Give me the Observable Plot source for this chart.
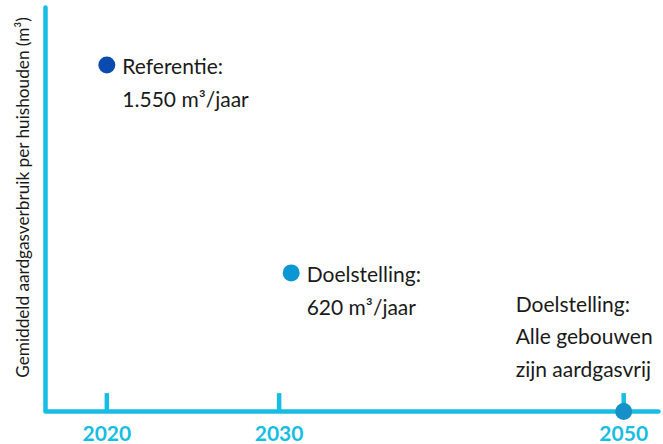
<!DOCTYPE html>
<html>
<head>
<meta charset="utf-8">
<script src="https://cdn.jsdelivr.net/npm/d3@7"></script>
<script src="https://cdn.jsdelivr.net/npm/@observablehq/plot@0.6"></script>
<style>
  html, body { margin: 0; padding: 0; background: #fff; }
</style>
</head>
<body>
<div id="chart"></div>
<script>
// ---- data ----
const tickYears = [2020, 2030, 2050];
const pointYears = [2020, 2030.7, 2050];
const pointValues = [1550, 620, 0];
const pointLabels = [
  "Referentie:\n1.550 m³/jaar",
  "Doelstelling:\n620 m³/jaar",
  "Doelstelling:\nAlle gebouwen\nzijn aardgasvrij"
];
const yLabel = "Gemiddeld aardgasverbruik per huishouden (m³)";

// ---- styles ----
const axisColor = "#17bde3";
const pointColors = ["#0b4bb0", "#0c96d4", "#1590c9"];
const textColor = "#1a1a1a";
const font = "Lato, 'Open Sans', sans-serif";

const xDomain = [2016.44, 2052.02];
const yDomain = [0, 1807];

const points = pointYears.map((x, i) => ({x, y: pointValues[i], label: pointLabels[i], i}));
const corner = [
  {x: xDomain[0], y: yDomain[1]},
  {x: xDomain[0], y: 0},
  {x: xDomain[1], y: 0}
];

const chart = Plot.plot({
  width: 663,
  height: 444,
  marginLeft: 45,
  marginRight: 5,
  marginTop: 7,
  marginBottom: 33,
  x: {domain: xDomain, axis: null},
  y: {domain: yDomain, axis: null},
  style: {fontFamily: font, background: "#fff"},
  marks: [
    Plot.line(corner, {x: "x", y: "y", stroke: axisColor, strokeWidth: 4.5, strokeLinejoin: "round"}),
    Plot.ruleX(tickYears, {x: d => d, y1: 0, y2: 80, stroke: axisColor, strokeWidth: 4.5}),
    Plot.text(tickYears, {x: d => d, y: 0, dy: 23, text: d => String(d), fill: axisColor, fontSize: 21, fontWeight: "bold", lineAnchor: "middle"}),
    Plot.dot(points, {x: "x", y: "y", r: 8.5, fill: d => pointColors[d.i], stroke: null}),
    Plot.text(points.slice(0, 2), {x: "x", y: "y", text: "label", textAnchor: "start", lineAnchor: "top", dx: 15.5, dy: -14.6, fontSize: 21, lineHeight: 1.57, fill: textColor}),
    Plot.text(points.slice(2), {x: "x", y: "y", text: "label", textAnchor: "start", lineAnchor: "top", dx: -108, dy: -123, fontSize: 21, lineHeight: 1.55, fill: textColor}),
    Plot.text([yLabel], {frameAnchor: "left", textAnchor: "middle", rotate: -90, dx: -22, dy: -12, fontSize: 17.2, fill: textColor})
  ]
});
document.getElementById("chart").appendChild(chart);
</script>
</body>
</html>
